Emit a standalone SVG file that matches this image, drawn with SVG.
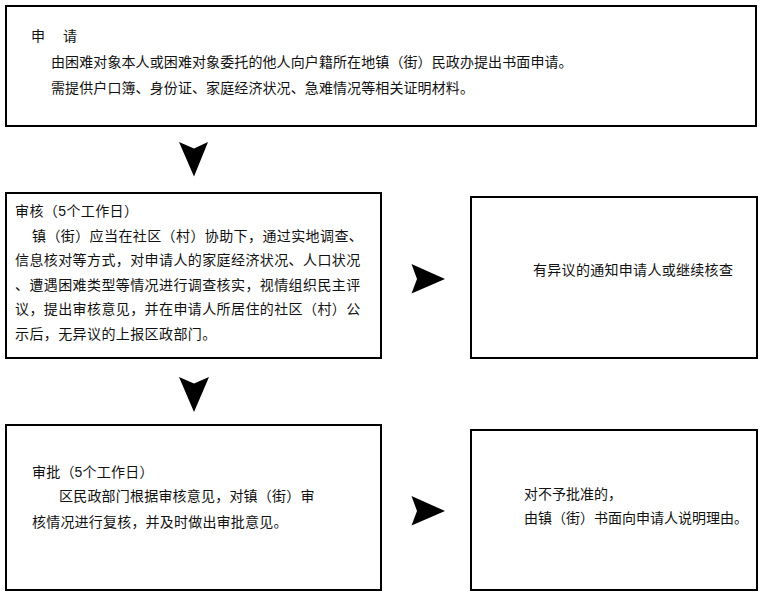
<svg xmlns="http://www.w3.org/2000/svg" width="763" height="598" viewBox="0 0 763 598">
<style>
.box{fill:#fff;stroke:#000;stroke-width:2}
.t{font-family:"Liberation Sans","Noto Sans CJK SC",sans-serif;font-size:14px;fill:#111}
.arr{fill:#000}
</style>
<rect x="0" y="0" width="763" height="598" fill="#fff"/>
<g id="node-apply">
<rect class="box" x="6" y="6" width="750" height="120"/>
<text class="t" y="41"><tspan x="31">申</tspan><tspan x="63">请</tspan></text>
<text class="t" x="51" y="67" letter-spacing="0.1">由困难对象本人或困难对象委托的他人向户籍所在地镇（街）民政办提出书面申请。</text>
<text class="t" x="51" y="93" letter-spacing="0.1">需提供户口簿、身份证、家庭经济状况、急难情况等相关证明材料。</text>
</g>
<g id="node-review">
<rect class="box" x="6" y="193" width="375" height="165"/>
<text class="t" letter-spacing="0.4">
<tspan x="15" y="216">审核（5个工作日）</tspan>
<tspan x="32" y="240.5">镇（街）应当在社区（村）协助下，通过实地调查、</tspan>
<tspan x="15" y="265">信息核对等方式，对申请人的家庭经济状况、人口状况</tspan>
<tspan x="15" y="289.5">、遭遇困难类型等情况进行调查核实，视情组织民主评</tspan>
<tspan x="15" y="314">议，提出审核意见，并在申请人所居住的社区（村）公</tspan>
<tspan x="15" y="338.5">示后，无异议的上报区政部门。</tspan>
</text>
</g>
<g id="node-objection">
<rect class="box" x="471" y="197" width="286" height="161"/>
<text class="t" x="533" y="275" letter-spacing="0.3">有异议的通知申请人或继续核查</text>
</g>
<g id="node-approve">
<rect class="box" x="6" y="425" width="375" height="165"/>
<text class="t" letter-spacing="0.2">
<tspan x="32" y="477">审批（5个工作日）</tspan>
<tspan x="59" y="501">区民政部门根据审核意见，对镇（街）审</tspan>
<tspan x="32" y="527">核情况进行复核，并及时做出审批意见。</tspan>
</text>
</g>
<g id="node-reject">
<rect class="box" x="471" y="430" width="286" height="160"/>
<text class="t">
<tspan x="524" y="499">对不予批准的，</tspan>
<tspan x="524" y="523">由镇（街）书面向申请人说明理由。</tspan>
</text>
</g>
<g id="connectors">
<polygon class="arr" points="179,142 194,148.5 208,142 194,176.5"/>
<polygon class="arr" points="179,377 194,383.5 209,377 194,412"/>
<polygon class="arr" points="411.5,264 417,279 411.5,293.5 445,279"/>
<polygon class="arr" points="411.5,496 417,511 411.5,525.5 445,511"/>
</g>
</svg>
